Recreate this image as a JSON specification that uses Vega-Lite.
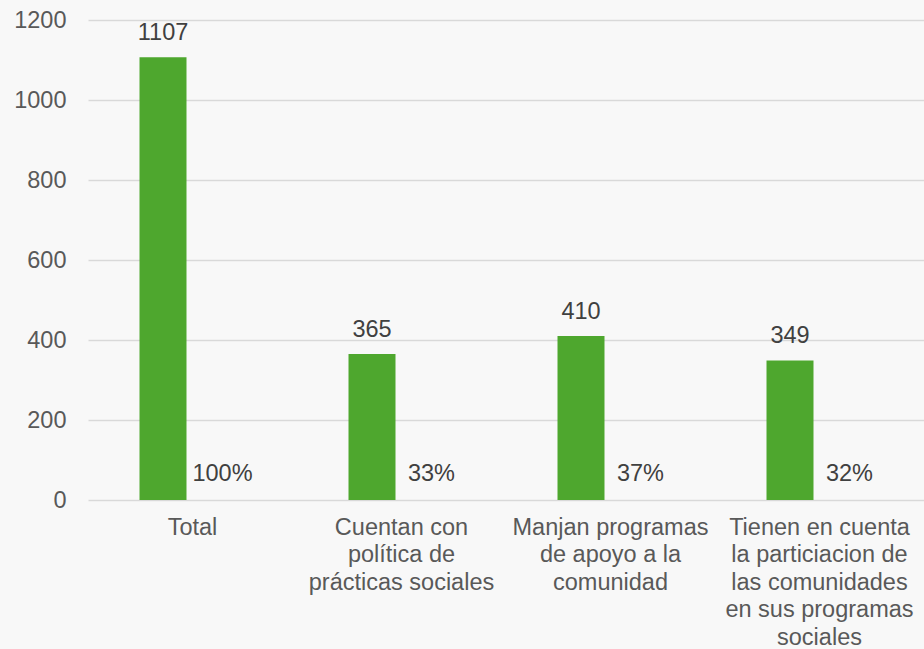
{
  "$schema": "https://vega.github.io/schema/vega-lite/v6.json",
  "autosize": "none",
  "width": 836,
  "height": 480,
  "padding": {"left": 88, "top": 20, "right": 0, "bottom": 149},
  "background": "#f8f8f8",
  "config": {
    "view": {"stroke": null},
    "font": "Liberation Sans",
    "text": {"font": "Liberation Sans"}
  },
  "data": {
    "values": [
      {"cat": "Total", "value": 1107, "pct": "100%"},
      {"cat": "Cuentan con|política de|prácticas sociales", "value": 365, "pct": "33%"},
      {"cat": "Manjan programas|de apoyo a la|comunidad", "value": 410, "pct": "37%"},
      {"cat": "Tienen en cuenta|la particiacion de|las comunidades|en sus programas|sociales", "value": 349, "pct": "32%"}
    ]
  },
  "encoding": {
    "x": {
      "field": "cat",
      "type": "nominal",
      "sort": null,
      "scale": {"paddingInner": 0, "paddingOuter": 0},
      "axis": {
        "title": null,
        "labelAngle": 0,
        "domain": false,
        "ticks": false,
        "labelExpr": "split(datum.label, '|')",
        "labelFont": "Liberation Sans",
        "labelFontSize": 23.5,
        "labelColor": "#595959",
        "labelLineHeight": 27.5,
        "labelPadding": 15,
        "labelLimit": 0
      }
    }
  },
  "layer": [
    {
      "mark": {"type": "bar", "width": 47, "xOffset": -29.5, "color": "#4ea72e"},
      "encoding": {
        "y": {
          "field": "value",
          "type": "quantitative",
          "scale": {"domain": [0, 1200], "nice": false},
          "axis": {
            "title": null,
            "values": [0, 200, 400, 600, 800, 1000, 1200],
            "format": "d",
            "domain": false,
            "ticks": false,
            "gridColor": "#d9d9d9",
            "gridWidth": 1.5,
            "labelFont": "Liberation Sans",
            "labelFontSize": 23.5,
            "labelColor": "#595959",
            "labelPadding": 22
          }
        }
      }
    },
    {
      "mark": {"type": "text", "dx": -29.5, "dy": -24, "baseline": "middle", "fontSize": 23.5, "color": "#404040"},
      "encoding": {
        "y": {"field": "value", "type": "quantitative"},
        "text": {"field": "value", "type": "quantitative"}
      }
    },
    {
      "mark": {"type": "text", "dx": 30, "dy": -26, "baseline": "middle", "fontSize": 23.5, "color": "#404040"},
      "encoding": {
        "y": {"datum": 0, "type": "quantitative"},
        "text": {"field": "pct", "type": "nominal"}
      }
    }
  ]
}
